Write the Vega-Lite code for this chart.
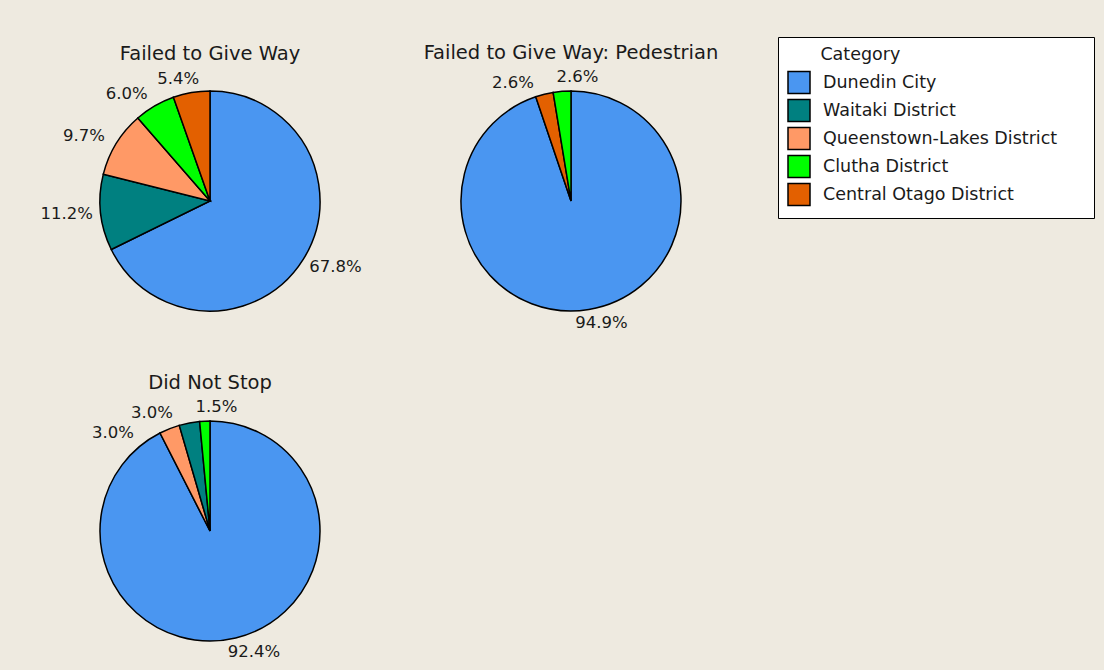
{
  "$schema": "https://vega.github.io/schema/vega-lite/v6.json",
  "background": "#EEEAE0",
  "padding": {"left": 40, "top": 36, "right": 9, "bottom": 12},
  "data": {"values": [
    {"chart": "Failed to Give Way", "cat": "Dunedin City", "share": 0.678},
    {"chart": "Failed to Give Way", "cat": "Waitaki District", "share": 0.112},
    {"chart": "Failed to Give Way", "cat": "Queenstown-Lakes District", "share": 0.097},
    {"chart": "Failed to Give Way", "cat": "Clutha District", "share": 0.060},
    {"chart": "Failed to Give Way", "cat": "Central Otago District", "share": 0.054},
    {"chart": "Failed to Give Way: Pedestrian", "cat": "Dunedin City", "share": 0.949},
    {"chart": "Failed to Give Way: Pedestrian", "cat": "Central Otago District", "share": 0.026},
    {"chart": "Failed to Give Way: Pedestrian", "cat": "Clutha District", "share": 0.026},
    {"chart": "Did Not Stop", "cat": "Dunedin City", "share": 0.924},
    {"chart": "Did Not Stop", "cat": "Queenstown-Lakes District", "share": 0.030},
    {"chart": "Did Not Stop", "cat": "Waitaki District", "share": 0.030},
    {"chart": "Did Not Stop", "cat": "Clutha District", "share": 0.015}
  ]},
  "transform": [
    {"window": [{"op": "row_number", "as": "k"}], "groupby": ["chart"],
     "sort": [{"field": "share", "order": "ascending"}, {"field": "cat", "order": "descending"}]}
  ],
  "facet": {
    "field": "chart", "type": "nominal",
    "sort": ["Failed to Give Way", "Failed to Give Way: Pedestrian", "Did Not Stop"],
    "title": null,
    "header": {"labelFont": "DejaVu Sans", "labelFontSize": 19.5, "labelColor": "#1a1a1a", "labelPadding": 6}
  },
  "columns": 2,
  "bounds": "flush",
  "spacing": {"column": 101, "row": 80},
  "spec": {
    "width": 260,
    "height": 250,
    "layer": [
      {
        "mark": {"type": "arc", "outerRadius": 110, "stroke": "black", "strokeWidth": 1.5},
        "encoding": {
          "theta": {"field": "share", "type": "quantitative", "stack": "normalize"},
          "color": {
            "field": "cat", "type": "nominal",
            "scale": {
              "domain": ["Dunedin City", "Waitaki District", "Queenstown-Lakes District", "Clutha District", "Central Otago District"],
              "range": ["#4A96F1", "#008080", "#FF9966", "#00FF00", "#E36000"]
            },
            "legend": {
              "orient": "none", "legendX": 698, "legendY": -39,
              "title": "\u200b\u00a0\u00a0\u00a0\u00a0\u00a0\u00a0Category",
              "titleFont": "DejaVu Sans", "titleFontSize": 17.5, "titleFontWeight": "normal", "titleColor": "#1a1a1a",
              "labelFont": "DejaVu Sans", "labelFontSize": 17.5, "labelColor": "#1a1a1a",
              "labelExpr": "datum.label + '\u00a0\u00a0\u00a0\u00a0\u00a0\u200b'",
              "labelLimit": 500,
              "symbolType": "square", "symbolSize": 484, "symbolStrokeColor": "black", "symbolStrokeWidth": 1.5, "symbolOpacity": 1,
              "fillColor": "white", "strokeColor": "black", "padding": 9,
              "rowPadding": 0, "labelOffset": 12, "titlePadding": 7
            }
          },
          "order": {"field": "k", "type": "quantitative", "sort": "descending"}
        }
      },
      {
        "mark": {
          "type": "text", "radius": 0, "font": "DejaVu Sans", "fontSize": 16.5, "fill": "#1a1a1a",
          "align": "center", "baseline": "middle",
          "dx": {"expr": "122*sin((datum.k==1 ? (180*(datum.share_start+datum.share_end)>353 ? 362 : 180*(datum.share_start+datum.share_end)) : min(180*(datum.share_start+datum.share_end), 382-20*datum.k))*PI/180) + 22*clamp(3*sin((datum.k==1 ? (180*(datum.share_start+datum.share_end)>353 ? 362 : 180*(datum.share_start+datum.share_end)) : min(180*(datum.share_start+datum.share_end), 382-20*datum.k))*PI/180), -1, 1)"},
          "dy": {"expr": "-124*cos((datum.k==1 ? (180*(datum.share_start+datum.share_end)>353 ? 362 : 180*(datum.share_start+datum.share_end)) : min(180*(datum.share_start+datum.share_end), 382-20*datum.k))*PI/180)"}
        },
        "encoding": {
          "theta": {"field": "share", "type": "quantitative", "stack": "normalize"},
          "detail": {"field": "cat", "type": "nominal"},
          "order": {"field": "k", "type": "quantitative", "sort": "descending"},
          "text": {"field": "share", "type": "quantitative", "format": ".1%"}
        }
      }
    ]
  },
  "config": {
    "font": "DejaVu Sans",
    "view": {"stroke": null}
  }
}
